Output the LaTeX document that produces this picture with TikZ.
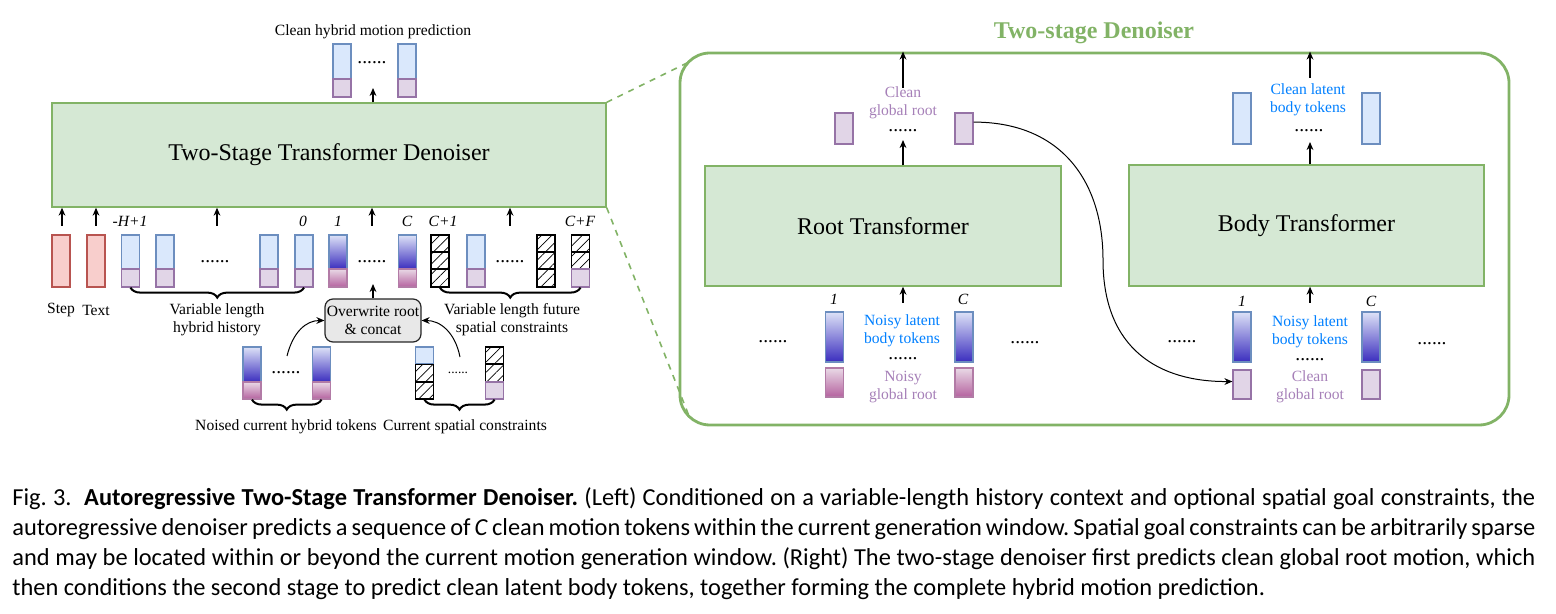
\documentclass[tikz,border=0pt]{standalone}
\usepackage{fontspec}
\setmainfont{Liberation Serif}
\newfontfamily\capfont{Carlito}
\usepackage{tikz}
\usetikzlibrary{arrows.meta,patterns.meta,decorations.pathreplacing}

\definecolor{greenF}{HTML}{D5E8D4}
\definecolor{greenD}{HTML}{82B366}
\definecolor{blueF}{HTML}{DAE8FC}
\definecolor{blueD}{HTML}{6C8EBF}
\definecolor{purF}{HTML}{E1D5E7}
\definecolor{purD}{HTML}{9673A6}
\definecolor{redF}{HTML}{F8CECC}
\definecolor{redD}{HTML}{B85450}
\definecolor{greyF}{HTML}{E8E8E8}
\definecolor{gbT}{HTML}{DDE2F7}
\definecolor{gbB}{HTML}{3A2DBE}
\definecolor{gmT}{HTML}{E9D9E6}
\definecolor{gmB}{HTML}{B5629F}
\definecolor{gmD}{HTML}{B27BA6}
\definecolor{bluT}{HTML}{007FFF}
\definecolor{purT}{HTML}{A680B8}

\begin{document}
\begin{tikzpicture}[x=0.5pt,y=-0.5pt,
  arr/.style={-{Stealth[length=4pt,width=3.4pt]},line width=0.7pt},
  tok/.style={draw,minimum width=9pt,inner sep=0pt,line width=0.6pt},
  blu/.style={tok,fill=blueF,draw=blueD},
  pur/.style={tok,fill=purF,draw=purD},
  rd/.style={tok,fill=redF,draw=redD},
  hat/.style={tok,draw=black,pattern={Lines[angle=45,distance=3.6pt,line width=0.35pt]}},
  gblu/.style={tok,draw=blueD,top color=gbT,bottom color=gbB},
  gmag/.style={tok,draw=gmD,top color=gmT,bottom color=gmB},
  lbl/.style={font=\fontsize{7.8}{9}\selectfont,inner sep=0pt},
  idx/.style={font=\fontsize{7.8}{9}\selectfont\itshape,inner sep=0pt},
  dots/.style={font=\fontsize{9.7}{10}\selectfont,inner sep=0pt},
  brc/.style={decorate,decoration={brace,mirror,amplitude=5pt},line width=1pt},
  bigbox/.style={draw=greenD,fill=greenF,font=\fontsize{12}{14}\selectfont,line width=0.7pt},
  gdash/.style={draw=greenD,dashed,line width=0.8pt},
]
\useasboundingbox (0,0) rectangle (1556,614);

% left: denoiser
\node[bigbox,minimum width=277pt,minimum height=52pt] (den) at (329,155) {Two-Stage Transformer Denoiser};

% output tokens
\node[lbl] (outlab) at (373,32) {Clean hybrid motion prediction};
\node[blu,minimum height=17.5pt] (ob1) at (342,61.5) {};
\node[pur,minimum height=9pt] (op1) at (342,88) {};
\node[blu,minimum height=17.5pt] (ob2) at (407,61.5) {};
\node[pur,minimum height=9pt] (op2) at (407,88) {};
\node[dots] (odots) at (372,63) {......};
\coordinate (oin) at (373,88);
\draw[arr] (den.north -| oin) -- (oin);

% input arrows
\foreach \i/\x in {1/62,2/96,3/217,4/372,5/510}{
  \coordinate (in\i) at (\x,226);
  \draw[arr] (in\i) -- (in\i |- den.south);
}
\node[idx] (iH) at (130,221) {-H+1};
\node[idx] (i0) at (303,221) {0};
\node[idx] (i1) at (338,221) {1};
\node[idx] (iC) at (407,221) {C};
\node[idx] (iC1) at (443,221) {C+1};
\node[idx] (iCF) at (580,221) {C+F};

% step and text
\node[rd,minimum height=26pt] (step) at (61,261) {};
\node[rd,minimum height=26pt] (text) at (96,261) {};
\node[lbl] (steplab) at (61,310) {Step};
\node[lbl] (textlab) at (96,310) {Text};

% history
\foreach \n/\x in {1/130.5,2/165,3/269,4/304}{
  \node[blu,minimum height=17pt] (hb\n) at (\x,252) {};
  \node[pur,minimum height=9pt] (hp\n) at (\x,278) {};
}
\node[dots] (hdots) at (215,262) {......};
\draw[brc] (hp1.south) -- (hp4.south);
\node[lbl,align=center] (hlab) at (217,320) {Variable length\\hybrid history};

% current window
\foreach \n/\x in {1/338,2/407.5}{
  \node[gblu,minimum height=17pt] (cb\n) at (\x,252) {};
  \node[gmag,minimum height=9pt] (cm\n) at (\x,278) {};
}
\node[dots] (cdots) at (372,262) {......};

% future constraints
\node[hat,minimum height=8.5pt] (fa1) at (440,243.5) {};
\node[hat,minimum height=8.5pt] (fa2) at (440,260.5) {};
\node[hat,minimum height=9pt] (fa3) at (440,278) {};
\node[blu,minimum height=17pt] (fb1) at (476,252) {};
\node[pur,minimum height=9pt] (fb2) at (476,278) {};
\node[dots] (fdots) at (510,262) {......};
\node[hat,minimum height=8.5pt] (fc1) at (546,243.5) {};
\node[hat,minimum height=8.5pt] (fc2) at (546,260.5) {};
\node[hat,minimum height=9pt] (fc3) at (546,278) {};
\node[hat,minimum height=8.5pt] (fd1) at (580.5,243.5) {};
\node[hat,minimum height=8.5pt] (fd2) at (580.5,260.5) {};
\node[pur,minimum height=9pt] (fd3) at (580.5,278) {};
\draw[brc] (fa3.south) -- (fd3.south);
\node[lbl,align=center] (flab) at (512,320) {Variable length future\\spatial constraints};

% overwrite
\node[draw=black!85,fill=greyF,rounded corners=4pt,minimum width=48pt,minimum height=21.5pt,
  align=center,font=\fontsize{7.8}{9}\selectfont,inner sep=0.5pt,line width=0.6pt] (ovr) at (373,320.5) {Overwrite root\\\& concat};
\coordinate (ovrout) at (373,284);
\draw[arr] (ovr.north) -- (ovrout);

% noised current tokens
\foreach \n/\x in {1/252,2/321.5}{
  \node[gblu,minimum height=17.5pt] (nb\n) at (\x,364.5) {};
  \node[gmag,minimum height=8.5pt] (nm\n) at (\x,390.5) {};
}
\node[dots] (ndots) at (286,373) {......};
\draw[brc] (nm1.south) -- (nm2.south);
\node[lbl] (nlab) at (286,427) {Noised current hybrid tokens};
\coordinate (nsrc) at (287,356);
\draw[arr,line width=0.5pt] (nsrc) .. controls (293,332) and (306,320.5) .. (ovr.west);

% current spatial constraints
\node[blu,minimum height=8.5pt] (sa1) at (424.5,355.5) {};
\node[hat,minimum height=8.75pt] (sa2) at (424.5,373) {};
\node[hat,minimum height=8.5pt] (sa3) at (424.5,390.5) {};
\node[hat,minimum height=8.5pt] (sb1) at (494.5,355.5) {};
\node[hat,minimum height=8.75pt] (sb2) at (494.5,373) {};
\node[pur,minimum height=8.5pt] (sb3) at (494.5,390.5) {};
\node[font=\fontsize{6.7}{7}\selectfont,inner sep=0pt] (sdots) at (458,373) {......};
\draw[brc] (sa3.south) -- (sb3.south);
\node[lbl] (slab) at (465,427) {Current spatial constraints};
\coordinate (ssrc) at (460,357);
\draw[arr,line width=0.5pt] (ssrc) .. controls (455,332) and (440,320.5) .. (ovr.east);

% right: two-stage denoiser
\node[draw=greenD,line width=1.4pt,rounded corners=15pt,minimum width=414.5pt,minimum height=186pt] (panel) at (1094.5,239) {};
\node[font=\fontsize{12}{14}\selectfont\bfseries,text=greenD,inner sep=0pt] (ptitle) at (1094,33) {Two-stage Denoiser};
\coordinate (ztop) at (689,62);
\coordinate (zbot) at (689,416);
\draw[gdash] (den.north east) -- (ztop);
\draw[gdash] (den.south east) -- (zbot);

\node[bigbox,minimum width=178pt,minimum height=60pt] (root) at (883,226) {Root Transformer};
\node[bigbox,minimum width=177.5pt,minimum height=60.5pt] (body) at (1306.5,225.5) {Body Transformer};

% root outputs
\node[pur,minimum height=15.5pt] (rt1) at (844,128.5) {};
\node[pur,minimum height=15.5pt] (rt2) at (964,128.5) {};
\node[lbl,text=purT,align=center] (rtlab) at (903,103) {Clean\\global root};
\node[dots] (rtdots) at (903,131) {......};
\coordinate (rtin) at (903,140);
\draw[arr] (root.north -| rtin) -- (rtin);
\coordinate (rtup) at (903,88);
\draw[arr] (rtup) -- (rtup |- panel.north);

% root inputs
\node[idx] (ri1) at (834,299) {1};
\node[idx] (riC) at (963,299) {C};
\node[gblu,minimum height=25pt] (rb1) at (834.5,337) {};
\node[gblu,minimum height=25pt] (rb2) at (964,337) {};
\node[gmag,minimum height=14.5pt] (rm1) at (834.5,382.5) {};
\node[gmag,minimum height=14.5pt] (rm2) at (964,382.5) {};
\node[lbl,text=bluT,align=center] (rblab) at (902,331) {Noisy latent\\body tokens};
\node[dots] (rbdots) at (903,359) {......};
\node[lbl,text=purT,align=center] (rmlab) at (903,387) {Noisy\\global root};
\node[dots] (rldots) at (773,342) {......};
\node[dots] (rrdots) at (1025,343) {......};
\coordinate (rin) at (903,303);
\draw[arr] (rin) -- (rin |- root.south);

% body outputs
\node[blu,minimum height=25.5pt] (bt1) at (1242,118.5) {};
\node[blu,minimum height=25.5pt] (bt2) at (1371,118.5) {};
\node[lbl,text=bluT,align=center] (btlab) at (1308,100) {Clean latent\\body tokens};
\node[dots] (btdots) at (1309,131) {......};
\coordinate (btin) at (1310,142);
\draw[arr] (body.north -| btin) -- (btin);
\coordinate (btup) at (1310,78);
\draw[arr] (btup) -- (btup |- panel.north);

% body inputs
\node[idx] (bi1) at (1242,301) {1};
\node[idx] (biC) at (1371,301) {C};
\node[gblu,minimum height=25pt] (bb1) at (1242,337) {};
\node[gblu,minimum height=25pt] (bb2) at (1371,337) {};
\node[pur,minimum height=14.5pt] (bc1) at (1242,384.5) {};
\node[pur,minimum height=14.5pt] (bc2) at (1371,384.5) {};
\node[lbl,text=bluT,align=center] (bblab) at (1310,332) {Noisy latent\\body tokens};
\node[dots] (bbdots) at (1310,360) {......};
\node[lbl,text=purT,align=center] (bclab) at (1310,387) {Clean\\global root};
\node[dots] (bldots) at (1182,342) {......};
\node[dots] (brdots) at (1432,344) {......};
\coordinate (bin) at (1310,303);
\draw[arr] (bin) -- (bin |- body.south);

% root to body
\coordinate (rbmid) at (1103,260);
\draw[arr,line width=0.5pt] ([yshift=3.2pt]rt2.east) .. controls (1060,122) and (1103,180) .. (rbmid)
  .. controls (1103,350) and (1160,382) .. ([yshift=1.5pt]bc1.west);

% caption
\node[anchor=north west,text width=761.5pt,align=justify,inner sep=0pt,
  font=\capfont\fontsize{12.2}{15}\selectfont\frenchspacing] (cap) at (12,487)
 {Fig. 3.\ \ \textbf{Autoregressive Two-Stage Transformer Denoiser.} (Left) Conditioned on a variable-length history context and optional spatial goal constraints, the\linebreak
 autoregressive denoiser predicts a sequence of \textit{C} clean motion tokens within the current generation window. Spatial goal constraints can be arbitrarily sparse\linebreak
 and may be located within or beyond the current motion generation window. (Right) The two-stage denoiser first predicts clean global root motion, which\linebreak
 then conditions the second stage to predict clean latent body tokens, together forming the complete hybrid motion prediction.};
\end{tikzpicture}
\end{document}
